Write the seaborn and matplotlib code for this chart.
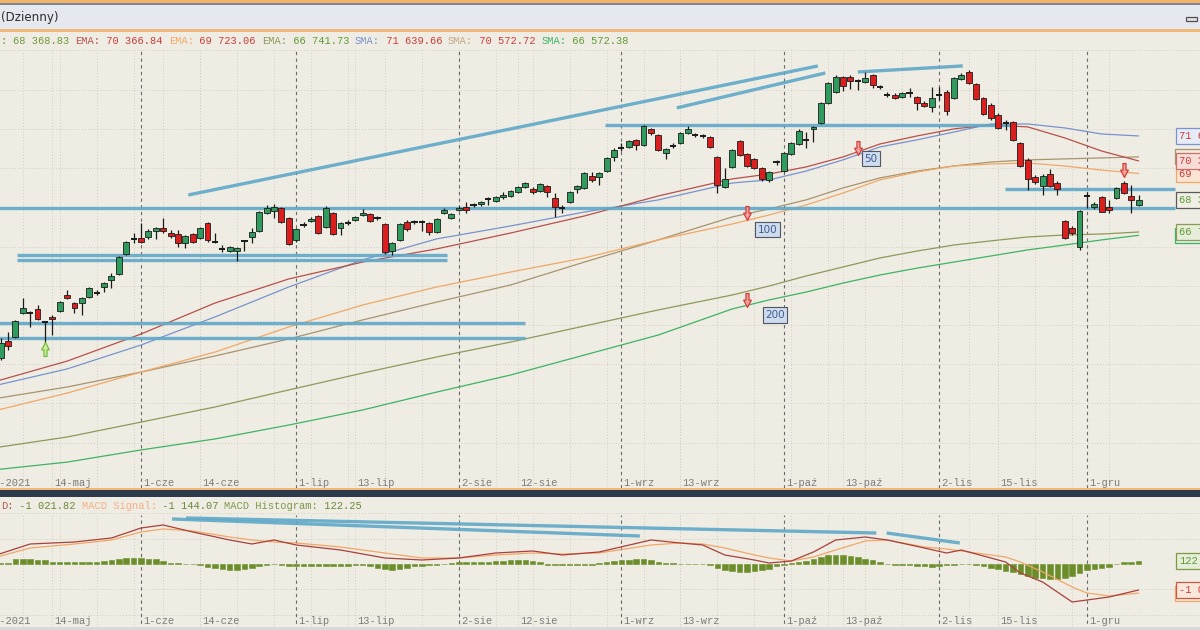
"""Daily candlestick chart with EMA/SMA overlays, trend lines and a MACD pane."""

import matplotlib
matplotlib.use("Agg")
import matplotlib.pyplot as plt
import matplotlib.transforms as mtransforms
from matplotlib.patches import Rectangle
from matplotlib.path import Path
import numpy as np
import pandas as pd
import seaborn as sns

# ---------------------------------------------------------------- data
DAYS = pd.bdate_range("2021-05-04", periods=156, freq="C",
                      holidays=["2021-06-03", "2021-11-01", "2021-11-11"])
MONTHS = {5: "maj", 6: "cze", 7: "lip", 8: "sie", 9: "wrz", 10: "paź", 11: "lis", 12: "gru"}
MAJOR_TICKS = ["2021-06-01", "2021-07-01", "2021-08-02", "2021-09-01",
               "2021-10-01", "2021-11-02", "2021-12-01"]
MINOR_TICKS = ["2021-05-14", "2021-06-14", "2021-07-13", "2021-08-12",
               "2021-09-13", "2021-10-13", "2021-11-15"]
FIRST_LABEL = "4-maj-2021"

OPEN = [60110, 60320, 61180, 61390, 62610, 62610, 62820, 62150, 62410, 62710,
        63530, 63120, 63120, 63430, 63630, 63940, 64300, 64600, 65620, 66390,
        66440, 66490, 66790, 66950, 66690, 66640, 66180, 66640, 66440, 67200,
        66230, 65880, 65770, 65770, 66280, 66490, 66790, 67710, 67810, 67970,
        67460, 66340, 67100, 67300, 67560, 67000, 67710, 66950, 67200, 67360,
        67610, 67660, 67460, 67150, 65770, 66340, 67250, 67250, 67250, 67200,
        66740, 67710, 67460, 67870, 68020, 68120, 68170, 68430, 68320, 68530,
        68580, 68780, 69040, 68940, 68830, 69090, 68480, 67970, 68270, 68940,
        68990, 69600, 69550, 69850, 70570, 71030, 71080, 71440, 71180, 72000,
        71690, 70770, 71130, 71280, 71790, 71690, 71640, 71590, 70570, 69040,
        70060, 71380, 70720, 70470, 70010, 69400, 70310, 69850, 70720, 71230,
        71440, 72000, 72300, 73320, 73880, 74650, 74650, 74440, 74390, 74750,
        74140, 73730, 73730, 73630, 73830, 73630, 73320, 73120, 73730, 73880,
        73580, 74550, 74900, 74290, 73580, 73220, 72710, 72300, 72350, 71280,
        70420, 69550, 69090, 69700, 69240, 67300, 66950, 65980, 68580, 68020,
        68530, 68020, 68480, 69240, 68580, 68120]
HIGH = [61240, 61340, 61640, 62260, 63380, 62710, 63020, 62200, 62510, 63220,
        63790, 63170, 63430, 63940, 63790, 64190, 64650, 65520, 66280, 66690,
        67200, 66900, 67000, 67460, 66850, 66850, 66590, 66690, 67000, 67250,
        66690, 66080, 66030, 65980, 66340, 66950, 67810, 68120, 68170, 68020,
        67510, 66950, 67250, 67510, 67610, 68070, 67760, 67250, 67360, 67560,
        67920, 67710, 67560, 67200, 66230, 67200, 67360, 67360, 67360, 67250,
        67460, 67970, 67710, 68070, 68270, 68220, 68320, 68530, 68580, 68780,
        68890, 69090, 69290, 69040, 69240, 69140, 68730, 68120, 68830, 69140,
        69800, 69800, 69800, 70570, 71030, 71280, 71440, 71490, 72200, 72050,
        71740, 71030, 71280, 71840, 72150, 71790, 71740, 71640, 70620, 70010,
        70980, 71440, 70770, 70520, 70060, 69850, 70420, 70820, 71330, 72000,
        71840, 72150, 73370, 74390, 74750, 74700, 74750, 74550, 74900, 74800,
        74240, 73880, 73830, 73880, 74090, 73680, 73420, 74140, 74140, 73990,
        74650, 74850, 75000, 74340, 73630, 73320, 72810, 72460, 72400, 71330,
        70520, 69650, 69700, 69960, 69340, 67360, 67050, 67870, 68780, 68270,
        68580, 68380, 69040, 69340, 69140, 68630]
LOW = [59910, 60220, 60730, 61340, 62560, 61900, 62260, 61080, 61490, 62660,
       63330, 62610, 62510, 63380, 63530, 63680, 63890, 64550, 65570, 66180,
       66180, 66390, 66390, 66690, 66440, 65980, 65930, 66180, 66390, 66230,
       66180, 65720, 65720, 65260, 65770, 66180, 66740, 67660, 67460, 67200,
       66080, 66230, 67000, 67250, 66640, 66950, 66590, 66590, 67100, 67300,
       67560, 67250, 67360, 65620, 65570, 66280, 66790, 67150, 66790, 66590,
       66690, 67660, 67410, 67810, 67710, 68020, 68070, 68120, 68270, 68430,
       68530, 68730, 68990, 68680, 68780, 68530, 67510, 67710, 68220, 68730,
       68940, 69290, 69140, 69800, 70360, 70870, 71030, 70930, 71130, 71690,
       70870, 70470, 71030, 71230, 71740, 71590, 71540, 71030, 68730, 68990,
       70010, 70620, 70060, 69960, 69340, 69290, 70160, 69800, 70670, 71180,
       71030, 71330, 72250, 73270, 73830, 73930, 74040, 73990, 74340, 74090,
       74040, 73630, 73530, 73580, 73630, 72970, 73120, 72860, 73480, 72710,
       73530, 74500, 74290, 73480, 72710, 72460, 72000, 71950, 71380, 70060,
       68890, 69190, 68630, 69040, 68630, 66390, 66590, 65830, 67970, 67920,
       67760, 67710, 68430, 68680, 67710, 68070]
CLOSE = [60980, 61080, 60930, 62200, 62870, 62610, 62310, 62150, 62310, 63170,
         63380, 62870, 63380, 63890, 63630, 64140, 64500, 65470, 66230, 66390,
         66230, 66790, 66950, 66790, 66540, 66180, 66540, 66230, 66950, 66340,
         66230, 65880, 65980, 65930, 66280, 66740, 67760, 67970, 68020, 67250,
         66130, 66900, 67100, 67410, 66690, 67970, 66640, 67200, 67200, 67510,
         67710, 67300, 67460, 65720, 66180, 67150, 66900, 67250, 67250, 66740,
         67410, 67870, 67660, 67970, 67870, 68120, 68270, 68430, 68530, 68630,
         68830, 69040, 69240, 68780, 69190, 68780, 68020, 67970, 68780, 69090,
         69750, 69400, 69750, 70520, 70930, 71030, 71380, 71180, 72150, 71790,
         70930, 70980, 71130, 71790, 72000, 71690, 71640, 71080, 69140, 69450,
         70930, 70670, 70110, 70010, 69450, 69800, 70310, 70770, 71280, 71890,
         71440, 72100, 73320, 74340, 74650, 74190, 74440, 74440, 74600, 74240,
         74140, 73730, 73580, 73830, 73830, 73320, 73170, 73580, 73730, 72910,
         74600, 74750, 74340, 73530, 72760, 72560, 72050, 72300, 71440, 70110,
         69450, 69290, 69600, 69090, 68940, 66440, 66690, 67810, 68580, 68170,
         67760, 67870, 68990, 68730, 68380, 68368.83]

# moving averages at these sessions
MA_DAYS = [0, 10, 20, 30, 40, 50, 60, 70, 80, 90, 100, 105, 110, 115, 120, 125,
           130, 135, 140, 145, 150, 155]
EMA50 = [59090, 60160, 61540, 63120, 64350, 65210, 65880, 66690, 67560, 68580,
         69450, 69700, 70060, 70570, 71230, 71640, 72000, 72200, 72100, 71540,
         70870, 70366.84]
EMA100 = [57610, 58530, 59600, 60620, 61900, 63020, 63940, 64700, 65420, 66340,
          67150, 67610, 68120, 68730, 69400, 69800, 70110, 70210, 70260, 70110,
          69900, 69723.06]
EMA200 = [55730, 56290, 57050, 57820, 58690, 59550, 60370, 61130, 61950, 62770,
          63530, 63990, 64500, 64960, 65420, 65770, 66080, 66290, 66490, 66590,
          66640, 66741.73]
SMA50 = [58890, 59760, 60980, 62410, 63940, 65320, 66390, 67050, 67760, 68380,
         69240, 69400, 69850, 70420, 71080, 71440, 71840, 72250, 72250, 72050,
         71740, 71639.66]
SMA100 = [58230, 58840, 59600, 60420, 61290, 62260, 63170, 64040, 65210, 66340,
          67510, 67920, 68380, 68990, 69500, 69850, 70110, 70310, 70420, 70470,
          70520, 70572.72]
SMA200 = [54610, 55010, 55630, 56190, 56900, 57670, 58580, 59450, 60470, 61490,
          62820, 63280, 63680, 64140, 64550, 64900, 65210, 65520, 65830, 66080,
          66340, 66572.38]

# MACD lines read at these sessions; histogram per session
MACD_DAYS = [0, 5, 11, 16, 20, 23, 27, 32, 35, 38, 41, 47, 53, 58, 63, 68, 73, 77,
             82, 89, 93, 96, 99, 103, 105, 108, 111, 114, 118, 121, 126, 129, 131,
             137, 139, 142, 146, 148, 151, 155]
MACD = [314, 786, 865, 1022, 1415, 1533, 1258, 943, 786, 943, 747, 550, 236, 157,
        236, 432, 511, 354, 472, 943, 825, 747, 354, 157, 39, 118, 472, 943, 1061,
        943, 629, 432, 550, 79, -354, -707, -1493, -1415, -1297, -1021.82]
SIGNAL = [236, 629, 786, 943, 1258, 1376, 1297, 1061, 943, 865, 825, 668, 432, 236,
          236, 354, 432, 393, 432, 747, 825, 786, 629, 354, 236, 118, 275, 550, 904,
          943, 668, 590, 511, 275, 79, -314, -904, -1140, -1258, -1144.07]
HIST = [39, 39, 39, 177, 216, 197, 157, 157, 98, 98,
        98, 79, 79, 79, 98, 118, 138, 197, 236, 255,
        255, 216, 177, 118, 39, 20, 12, 0, -39, -118,
        -177, -216, -236, -236, -216, -157, -79, -20, 12, -59,
        -79, -98, -79, -79, -98, -79, -98, -79, -79, -59,
        -59, -79, -157, -216, -236, -197, -157, -98, -79, -59,
        -39, 12, 39, 59, 79, 79, 98, 98, 118, 118,
        138, 138, 157, 118, 98, -20, -39, -59, -59, -39,
        -39, -20, 39, 79, 118, 138, 157, 177, 177, 138,
        79, 20, 20, 12, 12, 12, 0, -39, -157, -236,
        -275, -295, -295, -275, -255, -197, -98, -20, 20, 79,
        118, 197, 275, 334, 334, 334, 314, 275, 216, 138,
        79, 0, -20, -39, -59, -79, -98, -118, -98, -59,
        -20, 12, -12, -39, -79, -138, -197, -275, -314, -393,
        -472, -531, -570, -590, -590, -550, -472, -354, -255, -197,
        -138, -118, 0, 59, 98, 122.25]

# hand-drawn trend lines: start session, end session, start value, end value
TREND_MAIN = [
    (-1.0, 159.9, 67990, 67990),
    (136.9, 159.9, 68940, 68940),
    (82.8, 138.0, 72200, 72200),
    (3.2, 61.4, 65570, 65570),
    (3.2, 61.4, 65290, 65290),
    (-1.0, 72.0, 62120, 62120),
    (-1.0, 72.0, 61320, 61320),
    (26.4, 111.6, 68630, 75210),
    (92.5, 112.6, 73070, 74850),
    (117.0, 131.2, 74900, 75210),
]
TREND_MACD = [
    (24.2, 87.5, 1769, 1100),
    (26.1, 119.5, 1808, 1218),
    (120.9, 130.8, 1218, 825),
]

# period markers (session, value) and the boxes beside them
MARK_DAYS = [117, 102, 102, 153]
MARK_VALUES = [71030, 67710, 63280, 69900]
PERIOD_TEXT = ["50", "100", "200"]
PERIOD_DAYS = [118.8, 104.8, 105.8]
PERIOD_VALUES = [70470, 66850, 62510]
UP_MARK = (7, 60780)

# ---------------------------------------------------------------- style
BG = "#efece3"
MONO = "Liberation Mono"
FS = 7.45
GREEN = "#2f9b5c"
RED = "#dc1e1e"
TREND = "#5fa9c9"
C_EMA50, C_EMA100, C_EMA200 = "#b8504a", "#f2a766", "#8c9a5a"
C_SMA50, C_SMA100, C_SMA200 = "#7893cf", "#a8946e", "#3db463"
VAL_RED, VAL_GREEN = "#cc3b3b", "#5e9a36"

W, H = 1200, 630
X0, PXD = 0.92, 7.39           # first visible session, pixels per session
P_TOP, P_BOT = 76940, 53690     # value range of the price pane
M_TOP, M_BOT = 2633, -2594      # value range of the MACD pane

sns.set_theme(style="white")
plt.rcParams["font.family"] = ["DejaVu Sans"]


def fy(py):
    return 1 - py / H


def fmt(v):
    return f"{v:,.2f}".replace(",", " ")


fig = plt.figure(figsize=(12, 6.3), dpi=100)
fig.patch.set_facecolor(BG)
ax = fig.add_axes([0, fy(488), 1, (488 - 32) / H])
axm = fig.add_axes([0, 0, 1, (630 - 497) / H])
xmax = X0 + W / PXD
for a, lo, hi in ((ax, P_BOT, P_TOP), (axm, M_BOT, M_TOP)):
    a.set_facecolor(BG)
    a.set_xlim(X0, xmax)
    a.set_ylim(lo, hi)
    a.set_xticks([])
    a.set_yticks([])
    for s in a.spines.values():
        s.set_visible(False)

# grid
major_idx = [DAYS.get_loc(pd.Timestamp(d)) for d in MAJOR_TICKS]
minor_idx = [DAYS.get_loc(pd.Timestamp(d)) for d in MINOR_TICKS]
weekly = [i for i, d in enumerate(DAYS) if d.weekday() == 0]
for i in weekly + minor_idx:
    ax.axvline(i, ymax=(488 - 50) / 456, color="#d2cec3", lw=0.7, ls=(0, (1, 2)), zorder=0)
    axm.axvline(i, ymax=(630 - 515) / 133, color="#d2cec3", lw=0.7, ls=(0, (1, 2)), zorder=0)
for i in major_idx:
    ax.axvline(i, ymax=(488 - 50) / 456, color="#6a6a6a", lw=0.8, ls=(0, (3, 3)), zorder=1)
    axm.axvline(i, ymax=(630 - 515) / 133, color="#6a6a6a", lw=0.8, ls=(0, (3, 3)), zorder=1)
for v in range(56000, 76001, 2000):
    ax.axhline(v, color="#d2cec3", lw=0.7, ls=(0, (1, 2)), zorder=0)
for v in (-2000, -1000, 1000, 2000):
    axm.axhline(v, color="#d2cec3", lw=0.7, ls=(0, (1, 2)), zorder=0)

# moving averages
for vals, col in ((SMA200, C_SMA200), (EMA200, C_EMA200), (SMA100, C_SMA100),
                  (EMA100, C_EMA100), (SMA50, C_SMA50), (EMA50, C_EMA50)):
    sns.lineplot(x=MA_DAYS, y=vals, ax=ax, color=col, lw=0.9, zorder=2, legend=False)

# trend lines
for x0, x1, y0, y1 in TREND_MAIN:
    ax.plot([x0, x1], [y0, y1], color=TREND, lw=2.4, alpha=0.9, solid_capstyle="butt", zorder=3)
for x0, x1, y0, y1 in TREND_MACD:
    axm.plot([x0, x1], [y0, y1], color=TREND, lw=2.4, alpha=0.9, solid_capstyle="butt", zorder=3)

# candles
x = np.arange(len(OPEN))
o, h, l, c = map(np.asarray, (OPEN, HIGH, LOW, CLOSE))
up, dn, flat = c > o, c < o, c == o
ax.vlines(x, l, h, color="#1b1b1b", lw=0.9, zorder=4)
ax.bar(x[up], (c - o)[up], bottom=o[up], width=0.8, color=GREEN,
       edgecolor="#1b1b1b", lw=0.6, zorder=5)
ax.bar(x[dn], (o - c)[dn], bottom=c[dn], width=0.8, color=RED,
       edgecolor="#1b1b1b", lw=0.6, zorder=5)
ax.hlines(c[flat], x[flat] - 0.42, x[flat] + 0.42, color="#1b1b1b", lw=1.4, zorder=5)

# markers: block arrows drawn as custom marker paths
down_arrow = Path([(-0.22, 1.0), (0.22, 1.0), (0.22, 0.05), (0.55, 0.05), (0.0, -1.0),
                   (-0.55, 0.05), (-0.22, 0.05), (-0.22, 1.0)], closed=True)
up_arrow = Path([(px, -py) for px, py in down_arrow.vertices], closed=True)
ax.plot(MARK_DAYS, MARK_VALUES, ls="none", marker=down_arrow, ms=10, mfc="#f1a49c",
        mec="#d23c3c", mew=0.9, zorder=6)
ax.plot([UP_MARK[0]], [UP_MARK[1]], ls="none", marker=up_arrow, ms=10, mfc="#c8eea0",
        mec="#78bc3c", mew=0.9, zorder=6)
for t, d, v in zip(PERIOD_TEXT, PERIOD_DAYS, PERIOD_VALUES):
    ax.text(d, v, t, ha="center", va="center", fontsize=7.5, color="#3d5a8a", zorder=6,
            bbox=dict(boxstyle="square,pad=0.25", fc="#cfdcf0", ec="#4f5666", lw=0.8))

# MACD pane
axm.bar(x, HIST, width=0.75, color="#6b8e2b", edgecolor="#6b8e2b", lw=0.4, zorder=2)
sns.lineplot(x=MACD_DAYS, y=SIGNAL, ax=axm, color="#f2a766", lw=0.9, zorder=3, legend=False)
sns.lineplot(x=MACD_DAYS, y=MACD, ax=axm, color="#a8403c", lw=0.9, zorder=3, legend=False)

# date labels
lab_style = dict(fontsize=FS, family=MONO, color="#7c7c7c", ha="left", va="center")
for i in major_idx + minor_idx:
    d = DAYS[i]
    lab = f"{d.day}-{MONTHS[d.month]}"
    ax.annotate(lab, xy=(i, (488 - 483.5) / 456), xycoords=("data", "axes fraction"),
                xytext=(1.5, 0), textcoords="offset points", **lab_style)
    axm.annotate(lab, xy=(i, (630 - 621) / 133), xycoords=("data", "axes fraction"),
                 xytext=(1.5, 0), textcoords="offset points", **lab_style)
for a, yf in ((ax, (488 - 483.5) / 456), (axm, (630 - 621) / 133)):
    a.text(31 / W, yf, FIRST_LABEL, transform=a.transAxes, fontsize=FS, family=MONO,
           color="#7c7c7c", ha="right", va="center")

# right-hand value boxes
close = CLOSE[-1]


def vcol(v):
    return VAL_RED if v > close else VAL_GREEN


tr_main = mtransforms.blended_transform_factory(ax.transAxes, ax.transData)
tr_macd = mtransforms.blended_transform_factory(axm.transAxes, axm.transData)
box_h_main = 15 / 456 * (P_TOP - P_BOT)
box_h_macd = 15 / 133 * (M_TOP - M_BOT)
# boxes that sit almost fully behind others: only their frame peeks out
for v, ec, fc, a, tr, bh in ((SMA200[-1], C_SMA200, "#e2f0e2", ax, tr_main, box_h_main),
                             (SMA100[-1], C_SMA100, "#f0e8da", ax, tr_main, box_h_main),
                             (SIGNAL[-1], "#f2a766", "#fbe6da", axm, tr_macd, box_h_macd)):
    a.add_patch(Rectangle((1175 / W, v - bh / 2), 40 / W, bh, transform=tr,
                          facecolor=fc, edgecolor=ec, lw=0.9, zorder=9))
boxes = [
    (EMA200[-1], C_EMA200, "#e6edd8"),
    (EMA100[-1], C_EMA100, "#fbe4d1"),
    (EMA50[-1], "#c8706a", "#f7ddd8"),
    (SMA50[-1], C_SMA50, "#e7ebf6"),
    (close, "#5a5a5a", "#f0efe4"),
]
for k, (v, ec, fc) in enumerate(boxes):
    col = VAL_GREEN if v == close else vcol(v)
    ax.text(1179 / W, v, fmt(v), transform=tr_main, fontsize=FS, family=MONO, color=col,
            ha="left", va="center", zorder=10 + k,
            bbox=dict(boxstyle="square,pad=0.3", fc=fc, ec=ec, lw=0.9))
for k, (v, txt, ec, fc, col) in enumerate([
        (MACD[-1], fmt(MACD[-1]), "#c85a48", "#fbe6da", VAL_RED),
        (HIST[-1], f"{HIST[-1]:.2f}", "#7a9a4a", "#e6edd8", VAL_GREEN)]):
    axm.text(1179 / W, v, txt, transform=tr_macd, fontsize=FS, family=MONO, color=col,
             ha="left", va="center", zorder=10 + k,
             bbox=dict(boxstyle="square,pad=0.3", fc=fc, ec=ec, lw=0.9))

# chrome: header, legends and pane separator
for y0, y1, col in ((0, 3, "#f2b467"), (3, 5, "#7d8597"), (5, 29, "#e6e8ef"),
                    (29, 32, "#f1b877"), (488, 490, "#f1b877"), (490, 497, "#2d3a4b"),
                    (627, 630, "#d9d9d9")):
    fig.patches.append(Rectangle((0, fy(y1)), 1, (y1 - y0) / H, transform=fig.transFigure,
                                 facecolor=col, edgecolor="none", zorder=20))
fig.patches.append(Rectangle((1186 / W, fy(21)), 11 / W, 4 / H, transform=fig.transFigure,
                             facecolor="#e0e0e0", edgecolor="#505050", lw=0.9, zorder=21))
fig.text(1 / W, fy(18), "(Dzienny)", fontsize=8.6, color="#2e2e2e", ha="left",
         va="center", zorder=21)

cw = 0.6 * FS / 72 * 100   # monospace advance in pixels


def legend_line(segments, ypx):
    n = 0
    for txt, col in segments:
        fig.text((1 + n * cw) / W, fy(ypx), txt, fontsize=FS, family=MONO, color=col,
                 ha="left", va="center", zorder=21)
        n += len(txt)


legend_line([(": ", "#6f9a3a"), (fmt(close) + " ", "#6f9a3a"),
             ("EMA:", C_EMA50), (f" {fmt(EMA50[-1])} ", vcol(EMA50[-1])),
             ("EMA:", C_EMA100), (f" {fmt(EMA100[-1])} ", vcol(EMA100[-1])),
             ("EMA:", C_EMA200), (f" {fmt(EMA200[-1])} ", vcol(EMA200[-1])),
             ("SMA:", C_SMA50), (f" {fmt(SMA50[-1])} ", vcol(SMA50[-1])),
             ("SMA:", "#c4a684"), (f" {fmt(SMA100[-1])} ", vcol(SMA100[-1])),
             ("SMA:", C_SMA200), (f" {fmt(SMA200[-1])}", vcol(SMA200[-1]))], 41)
legend_line([("D:", "#b05a50"), (f" {fmt(MACD[-1])} ", "#6a8a3a"),
             ("MACD Signal:", "#f2b084"), (f" {fmt(SIGNAL[-1])} ", "#6a8a3a"),
             ("MACD Histogram:", "#7a9a4a"), (f" {HIST[-1]:.2f}", "#6a8a3a")], 506)

fig.savefig("out.png", dpi=100, facecolor=BG)
